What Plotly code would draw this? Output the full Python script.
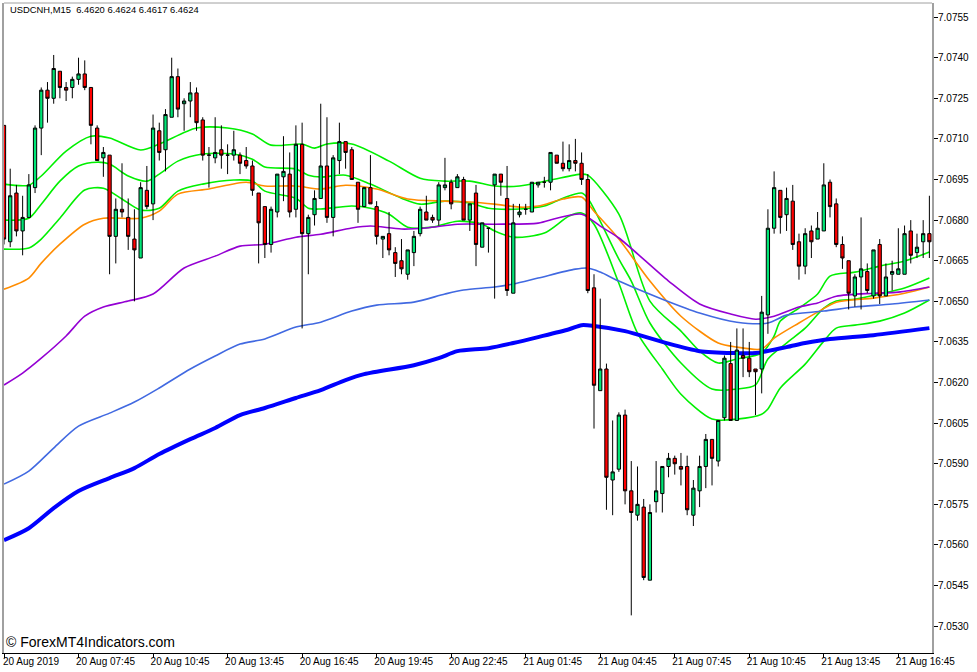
# USDCNH M15 candles with moving averages and three green bands (MT4 style)
import numpy as np
import plotly.graph_objects as go

# candle values, in points above 7.0000 (1 point = 0.0001)
opens = [715,672,690,676,681,692,714,728,725,735,729,729,732,734,729,714,703,704,674,684,
         681,673,666,691,686,713,706,718,733,723,724,727,717,704,703,706,704,704,704,702,
         700,690,685,671,683,696,697,684,708,675,682,688,700,681,702,709,706,694,685,692,
         685,673,675,668,665,660,668,675,683,681,680,692,694,692,695,680,690,670,677,693,
         697,688,653,682,684,683,693,694,694,704,701,699,702,701,695,655,617,625,584,588,
         608,580,571,574,547,576,579,589,592,589,589,571,580,589,599,591,607,627,606,630,
         629,625,625,645,677,691,682,687,672,663,676,673,676,694,686,671,665,652,659,661,
         652,671,652,660,660,660,676,668,672,675]
highs = [715,699,693,689,697,715,729,731,741,735,731,733,740,739,729,715,707,704,688,701,
         688,684,694,700,719,716,721,740,736,725,731,729,718,707,718,715,708,713,705,707,
         702,690,685,685,697,711,705,715,716,682,691,723,718,704,716,709,707,694,692,704,
         687,674,683,670,673,669,676,685,689,682,694,703,695,697,696,686,693,679,677,697,
         697,700,686,686,686,694,694,696,705,704,709,708,710,705,697,660,651,627,606,609,
         610,591,589,577,575,591,589,594,593,594,593,584,593,601,599,606,630,635,640,640,
         635,625,652,684,698,691,692,693,675,677,678,683,701,695,688,674,665,660,681,664,
         669,673,664,665,677,678,680,675,680,689]
lows = [671,670,674,667,681,690,704,716,723,725,724,725,730,728,708,702,696,660,664,681,
        669,650,666,684,680,702,698,718,718,713,718,713,702,692,701,699,697,702,697,699,
        689,664,666,668,681,687,681,681,640,660,678,688,679,674,697,699,695,679,685,686,
        671,666,667,659,660,658,663,674,680,679,678,691,684,692,680,676,663,670,668,651,
        689,652,653,681,682,683,692,692,691,701,698,698,698,693,653,603,617,573,571,587,
        575,534,569,547,547,572,572,585,586,582,571,567,574,581,582,589,606,606,606,622,
        622,608,616,638,675,675,676,669,658,660,666,673,676,681,670,662,647,648,647,653,
        651,649,652,654,660,660,664,666,666,666]
closes = [673,689,676,681,693,714,728,725,736,729,728,732,734,729,715,702,705,674,684,683,
          674,669,692,685,714,705,719,733,721,724,727,716,704,704,705,704,704,706,701,700,
          691,679,671,684,697,698,683,708,675,681,688,700,681,703,709,705,695,684,692,686,
          674,674,669,664,662,669,674,684,680,680,693,693,686,696,680,686,671,679,677,697,
          694,654,679,683,684,694,694,694,705,701,699,702,701,695,654,619,625,585,587,608,
          580,572,575,548,572,580,589,592,590,588,573,581,589,599,592,606,629,606,632,629,
          624,624,646,677,692,681,688,671,663,675,672,677,693,685,671,666,653,659,662,654,
          669,652,659,661,662,675,667,670,675,672]

# moving averages, read at some bars only (bar number, points above 7.0000)
thick_bars = [0,4,8,12,17,21,25,30,34,38,42,47,51,55,58,66,70,73,78,82,86,91,93,95,100,106,112,118,121,126,129,133,140,149]
thick_vals = [561.8,566.2,573.6,579.9,584.7,588.4,593.6,599.1,603.2,608.0,610.6,614.3,617.2,620.9,623.1,626.4,629.0,631.6,
              632.7,634.6,636.8,639.7,641.2,640.9,639.0,635.0,631.6,630.9,630.9,633.1,634.6,636.1,637.5,640.1]
royal_bars = [0,4,8,12,17,21,25,30,34,38,42,47,51,56,60,66,71,74,79,82,86,92,94,96,99,106,112,118,123,126,132,137,143,149]
royal_vals = [582.5,587.3,595.8,603.9,608.7,612.8,618.0,625.0,629.8,634.2,636.1,640.5,642.3,646.4,648.6,649.7,652.7,654.2,
              655.3,656.4,658.6,661.9,662.3,660.8,657.5,650.8,645.7,642.3,642.0,644.9,646.4,647.9,649.0,650.5]
purple_bars = [0,3,6,10,13,16,20,24,29,34,38,42,47,51,56,59,64,68,73,79,86,89,93,96,99,107,112,117,121,124,128,131,134,140,144,149]
purple_vals = [619.1,623.5,629.0,637.2,644.5,647.9,650.1,652.7,662.3,666.7,670.4,671.1,673.7,674.8,677.1,677.8,676.7,677.1,
               678.5,678.5,678.9,680.7,682.2,677.8,673.4,657.5,649.0,645.3,643.4,644.5,647.9,649.4,651.9,653.0,653.4,655.3]
orange_bars = [0,4,6,9,13,16,22,25,28,33,39,42,47,51,55,60,65,71,75,79,83,86,90,93,95,99,104,109,115,118,122,124,128,131,134,140,145,149]
orange_vals = [654.5,658.6,664.1,671.1,678.5,680.7,680.7,683.3,689.6,691.5,694.0,692.6,692.6,691.5,692.9,691.5,687.8,687.0,686.7,
               685.9,684.8,685.2,687.8,688.5,683.3,673.0,657.5,644.5,634.6,633.1,632.4,636.4,642.0,646.0,649.7,651.2,653.0,655.3]

# green bands
upper_bars = [0,4,6,10,14,17,22,25,31,36,40,43,48,50,52,56,62,67,71,75,79,83,88,93,94,99,104,109,112,115,118,122,124,125,128,131,133,137,141,145,149]
upper_vals = [693.3,692.9,696.3,705.5,711.0,710.3,705.9,708.1,714.0,714.0,711.8,707.7,708.1,706.6,708.1,708.1,701.8,695.5,694.4,694.4,
              692.6,692.6,694.8,697.0,696.6,682.2,650.1,639.0,631.6,627.2,628.7,630.9,637.2,642.7,647.5,652.7,659.3,660.8,663.0,664.9,668.2]
middle_bars = [0,4,6,9,12,15,17,20,23,25,28,32,37,40,42,47,49,51,55,59,64,67,71,75,78,83,87,90,93,94,99,101,104,109,114,118,121,123,126,129,132,134,137,141,145,149]
middle_vals = [680.0,680.7,685.9,694.4,700.0,701.4,700.7,696.3,694.4,697.0,701.8,704.4,704.4,702.5,699.6,698.9,696.6,695.9,696.6,693.3,
               688.1,685.9,687.0,686.3,684.4,684.1,685.2,688.1,690.0,688.1,665.6,657.5,642.0,627.2,617.6,617.6,619.1,628.7,634.6,640.1,647.5,650.1,650.8,652.7,654.9,658.6]
lower_bars = [0,4,6,9,13,16,19,22,25,28,32,37,40,42,47,49,51,56,59,62,65,69,73,77,79,82,87,91,93,95,99,102,106,109,114,118,122,123,125,129,132,134,137,141,145,149]
lower_vals = [669.3,669.7,673.0,680.7,691.1,691.8,687.8,683.7,684.4,690.7,693.3,694.8,694.4,690.7,688.1,684.4,684.1,685.2,684.4,682.2,
              677.4,677.4,679.6,678.5,676.0,673.7,675.2,681.5,682.6,678.5,656.7,638.3,625.0,615.7,606.5,606.5,608.3,610.2,618.0,626.8,635.3,640.1,641.2,642.7,645.7,650.5]

y_ticks = [7.0755,7.0740,7.0725,7.0710,7.0695,7.0680,7.0665,7.0650,7.0635,7.0620,7.0605,7.0590,7.0575,7.0560,7.0545,7.0530]
x_tick_bars = [0,12,24,36,48,60,72,84,96,108,120,132,144]
x_tick_labels = ['20 Aug 2019','20 Aug 07:45','20 Aug 10:45','20 Aug 13:45','20 Aug 16:45','20 Aug 19:45','20 Aug 22:45',
                 '21 Aug 01:45','21 Aug 04:45','21 Aug 07:45','21 Aug 10:45','21 Aug 13:45','21 Aug 16:45']


def price(points):
    return 7.0 + np.array(points) / 10000


fig = go.Figure()

lines = [
    (lower_bars, lower_vals, '#00f000', 1.6),
    (middle_bars, middle_vals, '#00f000', 1.6),
    (upper_bars, upper_vals, '#00f000', 1.6),
    (orange_bars, orange_vals, '#ff8c00', 1.6),
    (purple_bars, purple_vals, '#9400d3', 1.6),
    (royal_bars, royal_vals, '#4169e1', 1.6),
    (thick_bars, thick_vals, '#0000ff', 4),
]
for bars, vals, colour, w in lines:
    fig.add_trace(go.Scatter(x=bars, y=price(vals), mode='lines', showlegend=False,
                             line=dict(color=colour, width=w, shape='spline', smoothing=0.8)))

# candles go on an overlaying axis pair, MT4 paints them over the lines
fig.add_trace(go.Candlestick(
    x=list(range(len(opens))), open=price(opens), high=price(highs), low=price(lows), close=price(closes),
    xaxis='x2', yaxis='y2', showlegend=False, whiskerwidth=0,
    increasing=dict(fillcolor='#00e676', line=dict(color='black', width=1)),
    decreasing=dict(fillcolor='#ff0000', line=dict(color='black', width=1)),
))

x_range = [0, 149.42]
y_range = [7.05201, 7.07602]
font = dict(family='Liberation Sans', size=10, color='black')

fig.update_layout(
    width=977, height=672,
    margin=dict(l=2, r=45, t=3, b=19),
    paper_bgcolor='white', plot_bgcolor='white',
    showlegend=False,
    boxgap=0.25,
    xaxis=dict(range=x_range, tickmode='array', tickvals=x_tick_bars, ticktext=x_tick_labels,
               ticks='outside', ticklen=4, tickcolor='black', tickfont=font, ticklabelshift=27, ticklabelstandoff=-5,
               showgrid=False, zeroline=False, showline=True, linecolor='black', linewidth=1,
               rangeslider=dict(visible=False)),
    yaxis=dict(range=y_range, side='right', tickmode='array', tickvals=y_ticks,
               ticktext=['%.4f' % t for t in y_ticks],
               ticks='outside', ticklen=4, tickcolor='black', tickfont=font, ticklabelstandoff=-2,
               showgrid=False, zeroline=False, showline=True, mirror=True, linecolor='#a0a0a0', linewidth=2),
    xaxis2=dict(range=x_range, overlaying='x', visible=False, rangeslider=dict(visible=False)),
    yaxis2=dict(range=y_range, overlaying='y', visible=False),
    shapes=[dict(type='line', xref='paper', yref='paper', x0=0, x1=1, y0=1, y1=1,
                 line=dict(color='#a0a0a0', width=1))],
    annotations=[
        dict(text='USDCNH,M15  6.4620 6.4624 6.4617 6.4624', xref='paper', yref='paper', x=0.004, y=0.99,
             xanchor='left', yanchor='middle', showarrow=False,
             font=dict(family='Liberation Sans', size=9.4, color='black')),
        dict(text='© ForexMT4Indicators.com', xref='paper', yref='paper', x=0, y=0.0165,
             xanchor='left', yanchor='middle', showarrow=False,
             font=dict(family='Liberation Sans', size=14, color='black')),
    ],
)

# page margin off so the chart sits at the window corner, no toolbar in the picture
fig.write_html("out.html", config={'displayModeBar': False}, post_script="document.body.style.margin='0';")
